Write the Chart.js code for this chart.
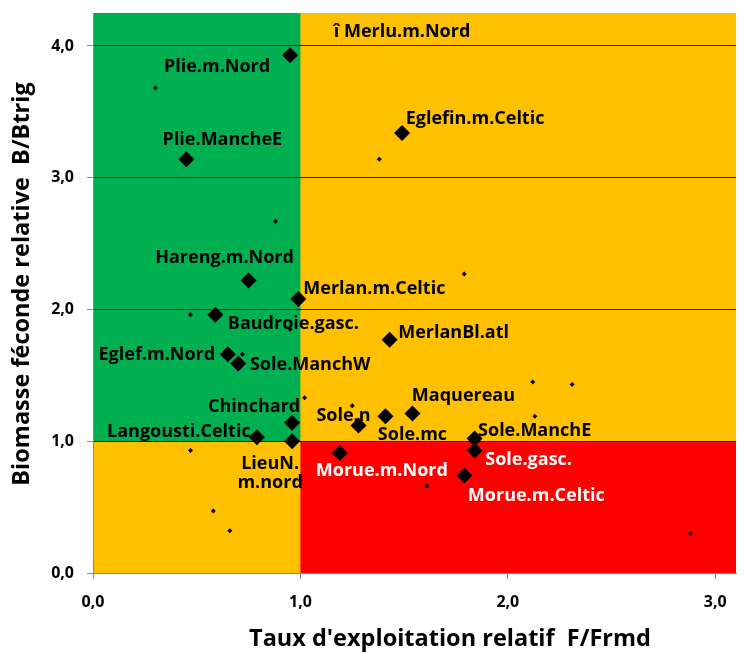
<!DOCTYPE html>
<html>
<head>
<meta charset="utf-8">
<script src="https://cdn.jsdelivr.net/npm/chart.js@4.4.1/dist/chart.umd.min.js"></script>
<style>
  html, body { margin: 0; padding: 0; background: #fff; }
  #wrap { width: 744px; height: 654px; }
</style>
</head>
<body>
<div id="wrap"><canvas id="kobe"></canvas></div>
<script>
// current year stocks (big diamonds)
const stocks = ['Plie.m.Nord', 'Plie.MancheE', 'Eglefin.m.Celtic', 'Hareng.m.Nord', 'Merlan.m.Celtic',
  'Baudroie.gasc.', 'Eglef.m.Nord', 'Sole.ManchW', 'MerlanBl.atl', 'Chinchard', 'Langousti.Celtic',
  'LieuN.m.nord', 'Morue.m.Nord', 'Sole.n', 'Sole.mc', 'Maquereau', 'Sole.ManchE', 'Sole.gasc.', 'Morue.m.Celtic'];
const stockF = [0.95, 0.45, 1.49, 0.75, 0.99, 0.59, 0.65, 0.70, 1.43, 0.96, 0.79, 0.96, 1.19, 1.28, 1.41, 1.54, 1.84, 1.84, 1.79];
const stockB = [3.93, 3.14, 3.34, 2.22, 2.08, 1.96, 1.66, 1.59, 1.77, 1.14, 1.03, 1.00, 0.91, 1.12, 1.19, 1.21, 1.02, 0.93, 0.74];

// previous year (small dots)
const prevF = [0.30, 1.38, 0.88, 0.47, 0.95, 0.72, 1.79, 2.12, 2.31, 1.02, 0.47, 0.58, 0.66, 1.25, 2.13, 1.61, 2.88];
const prevB = [3.68, 3.14, 2.67, 1.96, 1.85, 1.66, 2.27, 1.45, 1.43, 1.33, 0.93, 0.47, 0.32, 1.27, 1.19, 0.66, 0.30];

// Merlu is off the top of the chart
const merluName = 'î Merlu.m.Nord';
const merluF = 1.49;

const xTicks = [0, 1, 2, 3];
const yTicks = [0, 1, 2, 3, 4];

// where each label sits relative to its point (px)
const labelPos = {
  'Plie.m.Nord': [-73, 10], 'Plie.MancheE': [36, -21], 'Eglefin.m.Celtic': [73, -16],
  'Hareng.m.Nord': [-24, -25], 'Merlan.m.Celtic': [76, -12], 'Baudroie.gasc.': [78, 7],
  'Eglef.m.Nord': [-71, -1], 'Sole.ManchW': [72, -1], 'MerlanBl.atl': [64, -9],
  'Chinchard': [-38, -18], 'Langousti.Celtic': [-78, -7], 'LieuN.m.nord': [-22, 21],
  'Morue.m.Nord': [42, 16], 'Sole.n': [-15, -12], 'Sole.mc': [27, 17], 'Maquereau': [51, -20],
  'Sole.ManchE': [60, -10], 'Sole.gasc.': [54, 7], 'Morue.m.Celtic': [72, 18]
};
const whiteLabels = ['Morue.m.Nord', 'Sole.gasc.', 'Morue.m.Celtic'];

const FONT = '"Open Sans", sans-serif';
const fmt = v => v.toFixed(1).replace('.', ',');

const zones = {
  id: 'zones',
  beforeDraw(chart) {
    const { ctx, chartArea: a, scales: { x, y } } = chart;
    const x1 = x.getPixelForValue(1), y1 = y.getPixelForValue(1);
    ctx.save();
    ctx.fillStyle = '#FFC000';
    ctx.fillRect(a.left, a.top, a.width, a.height);
    ctx.fillStyle = '#00B050';
    ctx.fillRect(a.left, a.top, x1 - a.left, y1 - a.top);
    ctx.fillStyle = '#FF0000';
    ctx.fillRect(x1, y1, a.right - x1, a.bottom - y1);
    ctx.restore();
  }
};

const labels = {
  id: 'labels',
  afterDatasetsDraw(chart) {
    const { ctx, chartArea: a, scales: { x } } = chart;
    const pts = chart.getDatasetMeta(0).data;
    ctx.save();
    ctx.font = 'bold 18px ' + FONT;
    ctx.textAlign = 'center';
    ctx.textBaseline = 'middle';
    pts.forEach((p, i) => {
      const name = stocks[i];
      const [dx, dy] = labelPos[name];
      const ty = p.y + dy + 2;
      ctx.fillStyle = whiteLabels.includes(name) ? '#fff' : '#000';
      if (name === 'LieuN.m.nord') {
        ctx.fillText('LieuN.', p.x + dx, ty);
        ctx.fillText('m.nord', p.x + dx, ty + 19);
      } else {
        ctx.fillText(name, p.x + dx, ty);
      }
    });
    ctx.fillStyle = '#000';
    ctx.fillText(merluName, x.getPixelForValue(merluF), a.top + 19);
    ctx.restore();
  },
  afterDraw(chart) {
    const { ctx } = chart;
    ctx.save();
    ctx.fillStyle = '#000';
    ctx.font = 'bold 23.5px ' + FONT;
    ctx.textAlign = 'center';
    ctx.textBaseline = 'middle';
    ctx.fillText("Taux d'exploitation relatif  F/Frmd", 450, 639);
    ctx.translate(22, 284);
    ctx.rotate(-Math.PI / 2);
    ctx.fillText('Biomasse féconde relative  B/Btrig', 0, 0);
    ctx.restore();
  }
};

new Chart(document.getElementById('kobe'), {
  type: 'scatter',
  data: {
    datasets: [
      {
        label: 'stocks',
        data: stockF.map((f, i) => ({ x: f, y: stockB[i] })),
        pointStyle: 'rectRot',
        pointRadius: 8,
        backgroundColor: '#000',
        borderColor: '#000',
        borderWidth: 0
      },
      {
        label: 'previous',
        data: prevF.map((f, i) => ({ x: f, y: prevB[i] })),
        pointStyle: 'rectRot',
        pointRadius: 2.5,
        backgroundColor: '#000',
        borderColor: '#000',
        borderWidth: 0
      }
    ]
  },
  options: {
    responsive: true,
    maintainAspectRatio: false,
    animation: false,
    layout: { padding: { left: 0, top: 13, right: 8, bottom: 0 } },
    plugins: { legend: { display: false }, tooltip: { enabled: false } },
    scales: {
      x: {
        type: 'linear',
        min: 0,
        max: 3.1,
        afterBuildTicks: s => { s.ticks = xTicks.map(v => ({ value: v })); },
        afterFit: s => { s.height = 81; s.paddingLeft = 0; s.paddingRight = 0; },
        grid: { drawOnChartArea: false, tickLength: 6, tickColor: '#888' },
        border: { color: '#888' },
        ticks: { color: '#000', padding: 14, font: { family: FONT, size: 16, weight: 'bold' }, callback: fmt }
      },
      y: {
        type: 'linear',
        min: 0,
        max: 4.25,
        afterBuildTicks: s => { s.ticks = yTicks.map(v => ({ value: v })); },
        afterFit: s => { s.width = 93; s.paddingTop = 0; s.paddingBottom = 0; },
        grid: {
          color: c => (c.tick && c.tick.value === 0 ? 'rgba(0,0,0,0)' : '#1a1a1a'),
          tickLength: 6,
          tickColor: '#888'
        },
        border: { color: '#888' },
        ticks: { color: '#000', padding: 13, font: { family: FONT, size: 16, weight: 'bold' }, callback: fmt }
      }
    }
  },
  plugins: [zones, labels]
});
</script>
</body>
</html>
